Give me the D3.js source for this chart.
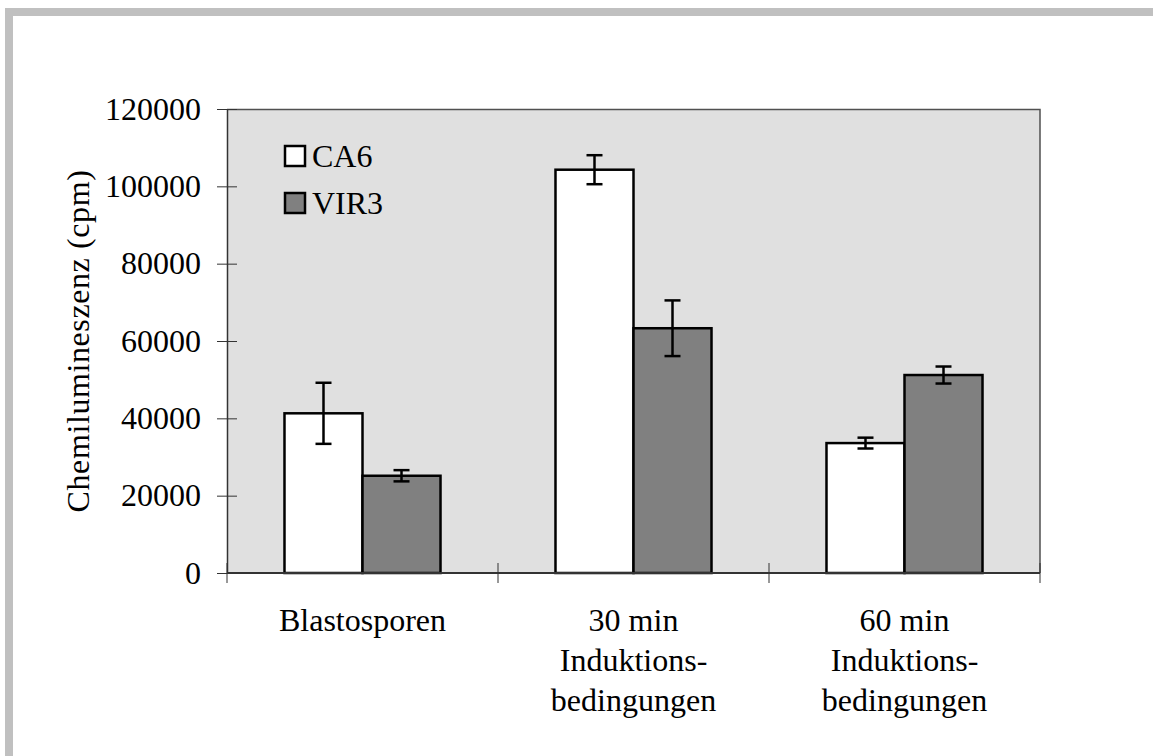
<!DOCTYPE html>
<html>
<head>
<meta charset="utf-8">
<script src="https://cdn.jsdelivr.net/npm/d3@7"></script>
<style>
  body { margin: 0; background: #fff; }
</style>
</head>
<body>
<div id="chart"></div>
<script>
// Data.
const categories = ["Blastosporen", "30 min Induktionsbedingungen", "60 min Induktionsbedingungen"];
const categoryLines = [["Blastosporen"], ["30 min", "Induktions-", "bedingungen"], ["60 min", "Induktions-", "bedingungen"]];
const series = ["CA6", "VIR3"];
const ca6Values = [41300, 104300, 33600];
const ca6Errors = [7900, 3750, 1400];
const vir3Values = [25150, 63300, 51200];
const vir3Errors = [1450, 7200, 2200];
const yTicks = [0, 20000, 40000, 60000, 80000, 100000, 120000];
const seriesFill = { CA6: "#ffffff", VIR3: "#808080" };

const FONT = "'Liberation Serif'";
const FS = 32;

const W = 1153, H = 756;
const margin = { top: 109, right: 113, bottom: 183, left: 227 };
const width = W - margin.left - margin.right,
  height = H - margin.top - margin.bottom;

const root = d3.select("#chart").append("svg")
  .attr("width", W)
  .attr("height", H);

// Gray frame around the figure (only top and left edges are visible).
root.append("rect")
  .attr("x", 5).attr("y", 8)
  .attr("width", W).attr("height", 8)
  .attr("fill", "#c0c0c0");
root.append("rect")
  .attr("x", 5).attr("y", 8)
  .attr("width", 8).attr("height", H)
  .attr("fill", "#c0c0c0");

const svg = root.append("g")
  .attr("transform", `translate(${margin.left}, ${margin.top})`);

// Scales.
const x0 = d3.scaleBand()
  .domain(categories)
  .range([0, width])
  .padding(0);
const x1 = d3.scaleBand()
  .domain(series)
  .range([0, x0.bandwidth()])
  .paddingInner(0)
  .paddingOuter(0.737);
const y = d3.scaleLinear()
  .domain([0, 120000])
  .range([height, 0]);

// Plot area background and border.
svg.append("rect")
  .attr("width", width)
  .attr("height", height)
  .attr("fill", "#e0e0e0");
svg.append("path")
  .attr("d", `M0,0.5H${width}V${height}`)
  .attr("fill", "none")
  .attr("stroke", "#505050")
  .attr("stroke-width", 1.5);

// Build rows for the bars.
const rows = categories.map((c, i) => ({
  cat: c,
  bars: [
    { key: "CA6", value: ca6Values[i], err: ca6Errors[i] },
    { key: "VIR3", value: vir3Values[i], err: vir3Errors[i] }
  ]
}));

const groups = svg.selectAll("g.group")
  .data(rows)
  .join("g")
  .attr("class", "group")
  .attr("transform", d => `translate(${x0(d.cat)}, 0)`);

groups.selectAll("rect")
  .data(d => d.bars)
  .join("rect")
  .attr("x", d => x1(d.key))
  .attr("y", d => y(d.value))
  .attr("width", x1.bandwidth())
  .attr("height", d => height - y(d.value))
  .attr("fill", d => seriesFill[d.key])
  .attr("stroke", "#000")
  .attr("stroke-width", 2.5);

// Error bars.
const capW = 8;
const eb = groups.selectAll("g.err")
  .data(d => d.bars)
  .join("g")
  .attr("class", "err")
  .attr("transform", d => `translate(${x1(d.key) + x1.bandwidth() / 2}, 0)`)
  .attr("stroke", "#000")
  .attr("stroke-width", 2.5);
eb.append("line")
  .attr("y1", d => y(d.value + d.err))
  .attr("y2", d => y(d.value - d.err));
eb.append("line")
  .attr("x1", -capW).attr("x2", capW)
  .attr("y1", d => y(d.value + d.err))
  .attr("y2", d => y(d.value + d.err));
eb.append("line")
  .attr("x1", -capW).attr("x2", capW)
  .attr("y1", d => y(d.value - d.err))
  .attr("y2", d => y(d.value - d.err));

// Y axis with ticks crossing the axis line.
const yAxis = svg.append("g")
  .call(d3.axisLeft(y).tickValues(yTicks).tickFormat(d3.format("d"))
    .tickSize(10).tickSizeOuter(0).tickPadding(16));
yAxis.attr("font-family", FONT).attr("font-size", FS);
yAxis.select(".domain").attr("stroke", "#333").attr("stroke-width", 1.5);
yAxis.selectAll(".tick line").attr("x1", 10).attr("stroke", "#333");
yAxis.selectAll(".tick text").attr("fill", "#000").attr("font-family", FONT);

// X axis: ticks at category boundaries.
const xAxis = svg.append("g")
  .attr("transform", `translate(0, ${height})`);
xAxis.append("line")
  .attr("x1", 0).attr("x2", width)
  .attr("stroke", "#333").attr("stroke-width", 2);
xAxis.selectAll("line.tick")
  .data(categories.concat(["end"]))
  .join("line")
  .attr("class", "tick")
  .attr("x1", (d, i) => i < categories.length ? x0(d) : width)
  .attr("x2", (d, i) => i < categories.length ? x0(d) : width)
  .attr("y1", -10).attr("y2", 10)
  .attr("stroke", "#333");

// Category labels.
xAxis.selectAll("text.cat")
  .data(rows)
  .join("text")
  .attr("class", "cat")
  .attr("text-anchor", "middle")
  .attr("font-family", FONT)
  .attr("font-size", FS)
  .attr("transform", d => `translate(${x0(d.cat) + x0.bandwidth() / 2}, 58)`)
  .selectAll("tspan")
  .data((d, i) => categoryLines[i])
  .join("tspan")
  .attr("x", 0)
  .attr("y", (d, i) => i * 40)
  .text(d => d);

// Y axis label.
svg.append("text")
  .attr("transform", `translate(-138, ${height / 2}) rotate(-90)`)
  .attr("text-anchor", "middle")
  .attr("font-family", FONT)
  .attr("font-size", FS)
  .attr("letter-spacing", 0.6)
  .text("Chemilumineszenz (cpm)");

// Legend.
const legend = svg.selectAll("g.legend")
  .data(series)
  .join("g")
  .attr("class", "legend")
  .attr("transform", (d, i) => `translate(58, ${37 + i * 47})`);
legend.append("rect")
  .attr("width", 20).attr("height", 20)
  .attr("fill", d => seriesFill[d])
  .attr("stroke", "#000")
  .attr("stroke-width", 2.5);
legend.append("text")
  .attr("x", 27)
  .attr("y", 21)
  .attr("font-family", FONT)
  .attr("font-size", FS)
  .text(d => d);
</script>
</body>
</html>
